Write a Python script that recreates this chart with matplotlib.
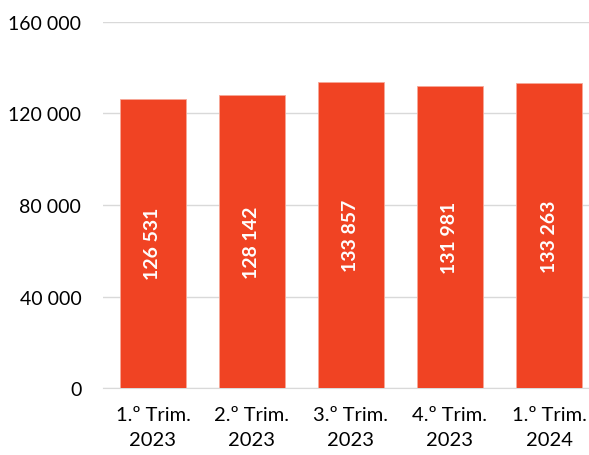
import matplotlib.pyplot as plt
from matplotlib.ticker import FuncFormatter

categories = ['1.º Trim.\n2023', '2.º Trim.\n2023', '3.º Trim.\n2023', '4.º Trim.\n2023', '1.º Trim.\n2024']
values = [126531, 128142, 133857, 131981, 133263]
yticks = [0, 40000, 80000, 120000, 160000]

plt.rcParams['font.family'] = ['Lato', 'DejaVu Sans']

def fmt(v, pos=None):
    return f'{int(v):,}'.replace(',', ' ')

fig = plt.figure(figsize=(5.89, 4.56), dpi=100)
ax = fig.add_axes([0.1757, 0.1469, 0.8243, 0.8027])

x = range(len(values))
bars = ax.bar(x, values, width=0.667, color='#F04323', edgecolor='#F6A898', linewidth=0.6, zorder=3)

for b, v in zip(bars, values):
    ax.text(b.get_x() + b.get_width() / 2, v / 2, fmt(v), rotation=90,
            ha='center', va='center', color='white', fontsize=14, fontweight='bold', zorder=4)

ax.set_xlim(-0.5, 4.404)
ax.set_ylim(0, 160000)
ax.set_yticks(yticks)
ax.yaxis.set_major_formatter(FuncFormatter(fmt))
ax.set_xticks(list(x))
ax.set_xticklabels(categories, linespacing=1.55)

ax.grid(axis='y', color='#D9D9D9', linewidth=1, zorder=0)
for s in ['top', 'right', 'left']:
    ax.spines[s].set_visible(False)
ax.spines['bottom'].set_color('#D9D9D9')
ax.tick_params(axis='both', length=0, labelsize=14, colors='black')
ax.tick_params(axis='x', labelsize=14.5, pad=13)
ax.tick_params(axis='y', pad=16)

fig.savefig('out.png', dpi=100)
